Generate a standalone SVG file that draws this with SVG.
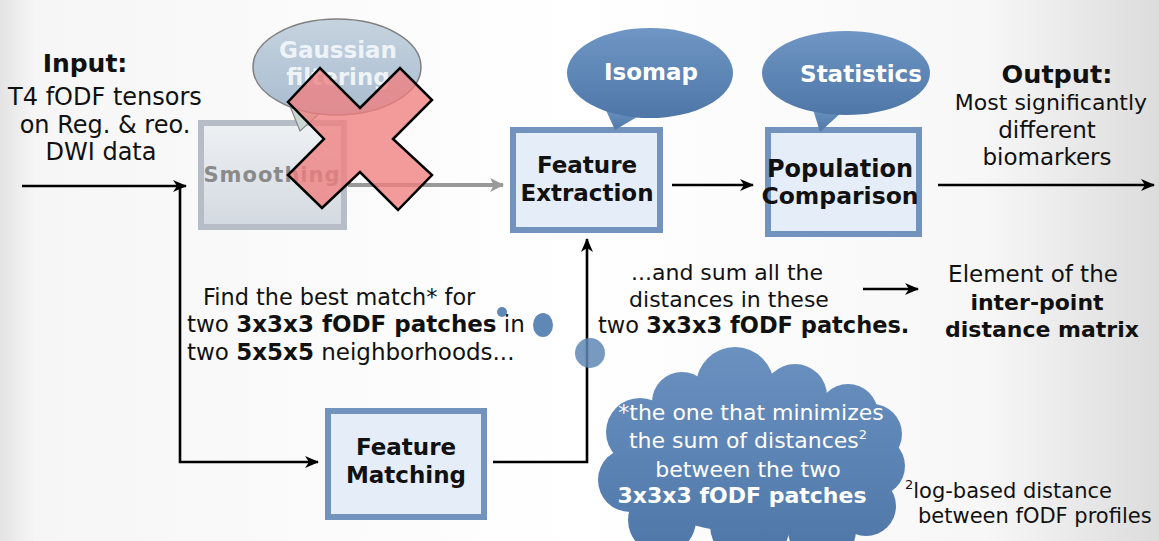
<svg xmlns="http://www.w3.org/2000/svg" width="1159" height="541" viewBox="0 0 1159 541" font-size="22">
<defs>
<linearGradient id="bg" x1="0" y1="0" x2="1" y2="0">
<stop offset="0" stop-color="#e4e4e4"/><stop offset="0.03" stop-color="#f6f6f6"/><stop offset="0.5" stop-color="#ffffff"/><stop offset="0.85" stop-color="#f7f7f7"/><stop offset="1" stop-color="#dcdcdc"/>
</linearGradient>
<linearGradient id="blueFill" x1="0" y1="0" x2="0" y2="1">
<stop offset="0" stop-color="#6f96c4"/><stop offset="1" stop-color="#4e77a8"/>
</linearGradient>
<linearGradient id="cloudFill" gradientUnits="userSpaceOnUse" x1="0" y1="347" x2="0" y2="541">
<stop offset="0" stop-color="#6a91c0"/><stop offset="1" stop-color="#5079aa"/>
</linearGradient>
<linearGradient id="grayFill" x1="0" y1="0" x2="0" y2="1">
<stop offset="0" stop-color="#eef1f4"/><stop offset="1" stop-color="#d3d9e0"/>
</linearGradient>
<linearGradient id="gaussFill" x1="0" y1="0" x2="0" y2="1">
<stop offset="0" stop-color="#c6d3e0"/><stop offset="1" stop-color="#a8bccf"/>
</linearGradient>
<marker id="ah" viewBox="0 0 14 12" refX="13" refY="6" markerWidth="14" markerHeight="12" markerUnits="userSpaceOnUse" orient="auto">
<path d="M0,0 L14,6 L0,12 L4,6 Z" fill="#000"/>
</marker>
<marker id="ahg" viewBox="0 0 12 12" refX="11" refY="6" markerWidth="14" markerHeight="14" markerUnits="userSpaceOnUse" orient="auto">
<path d="M0,0 L12,6 L0,12 L3,6 Z" fill="#999"/>
</marker>
<style>
text{font-family:"DejaVu Sans","Liberation Sans",sans-serif;fill:#111}
.c{text-anchor:middle}
.b{font-weight:bold}
.w{fill:#ffffff}
.box{fill:#e5edf8;stroke:#7393bf;stroke-width:6}
.bub{fill:url(#blueFill)}
.ln{fill:none;stroke:#000;stroke-width:2.6}
</style>
</defs>
<rect x="0" y="0" width="1159" height="541" fill="url(#bg)"/>

<g id="connectors">
<line class="ln" x1="22" y1="186" x2="186" y2="186" marker-end="url(#ah)"/>
<polyline class="ln" points="180,188 180,462 318,462" marker-end="url(#ah)"/>
<line x1="348" y1="185" x2="503" y2="185" stroke="#999" stroke-width="4" marker-end="url(#ahg)"/>
<line class="ln" x1="672" y1="185" x2="753" y2="185" marker-end="url(#ah)"/>
<line class="ln" x1="938" y1="185" x2="1154" y2="185" marker-end="url(#ah)"/>
<polyline class="ln" points="493,462 587,462 587,239" marker-end="url(#ah)"/>
<line class="ln" x1="863" y1="289" x2="918" y2="289" marker-end="url(#ah)"/>
</g>

<g id="input-label">
<text class="c b" x="85" y="72" font-size="25">Input:</text>
<text class="c" x="105" y="105" font-size="24">T4 fODF tensors</text>
<text class="c" x="105" y="133" font-size="24">on Reg. &amp; reo.</text>
<text class="c" x="101" y="160" font-size="24">DWI data</text>
</g>

<g id="smoothing">
<rect x="201" y="123" width="143" height="104" fill="url(#grayFill)" stroke="#b6bdc7" stroke-width="6"/>
<text class="c b" x="272" y="182" font-size="21" style="fill:#8a8a8a" letter-spacing="1">Smoothing</text>
</g>

<g id="gaussian-filtering">
<polygon points="290,106 300,131 320,113" fill="#c9d9d2" stroke="#888" stroke-width="1.2"/>
<ellipse cx="337" cy="67" rx="84" ry="48" fill="url(#gaussFill)" stroke="#808080" stroke-width="1.5"/>
<text class="c b" x="338" y="58" font-size="23" style="fill:#eef3f8">Gaussian</text>
<text class="c b" x="338" y="85" font-size="23" style="fill:#eef3f8">filtering</text>
</g>

<g id="cross">
<polygon points="360,108 400,68 432,100 393,139 432,175 398,210 360,172 322,208 288,175 324,139 288,102 320,68" fill="#f07f7f" fill-opacity="0.78" stroke="#000" stroke-width="2.5" stroke-linejoin="miter"/>
</g>

<g id="feature-extraction">
<rect class="box" x="513" y="130" width="147" height="100"/>
<text class="c b" x="587" y="173" font-size="23">Feature</text>
<text class="c b" x="587" y="201" font-size="23">Extraction</text>
</g>

<g id="isomap">
<polygon class="bub" points="604,106 615,130 642,114"/>
<ellipse class="bub" cx="650" cy="73" rx="83" ry="45"/>
<text class="c b w" x="651" y="80" font-size="23">Isomap</text>
</g>

<g id="population-comparison">
<rect class="box" x="768" y="130" width="151" height="104"/>
<text class="c b" x="840" y="177" font-size="24">Population</text>
<text class="c b" x="840" y="204" font-size="23.5">Comparison</text>
</g>

<g id="statistics">
<polygon class="bub" points="812,106 820,132 842,112"/>
<ellipse class="bub" cx="846" cy="73" rx="84" ry="42"/>
<text class="c b w" x="861" y="82" font-size="23">Statistics</text>
</g>

<g id="output-label">
<text class="c b" x="1057" y="83" font-size="25.5">Output:</text>
<text class="c" x="1051" y="110" font-size="22">Most significantly</text>
<text class="c" x="1047" y="138" font-size="23">different</text>
<text class="c" x="1047" y="165" font-size="23">biomarkers</text>
</g>

<g id="feature-matching">
<rect class="box" x="328" y="411" width="156" height="106"/>
<text class="c b" x="406" y="455" font-size="23">Feature</text>
<text class="c b" x="406" y="483" font-size="23">Matching</text>
</g>

<g id="find-text">
<text x="203" y="305" font-size="22.4">Find the best match* for</text>
<text x="187" y="332" font-size="23">two <tspan class="b">3x3x3 fODF patches</tspan> in</text>
<text x="187" y="360" font-size="23">two <tspan class="b">5x5x5</tspan> neighborhoods...</text>
</g>

<g id="thought-bubbles">
<circle cx="502" cy="312" r="5" fill="#6088b6"/>
<ellipse cx="543" cy="325" rx="10" ry="12" fill="#6088b6"/>
<circle cx="590" cy="353" r="15" fill="#6088b6" fill-opacity="0.85"/>
</g>

<g id="sum-text">
<text class="c" x="727" y="280" font-size="22">...and sum all the</text>
<text class="c" x="729" y="307" font-size="22">distances in these</text>
<text x="598" y="333" font-size="22.5">two <tspan class="b">3x3x3 fODF patches.</tspan></text>
</g>

<g id="element-text">
<text class="c" x="1033" y="282" font-size="23">Element of the</text>
<text class="c b" x="1037" y="310" font-size="22">inter-point</text>
<text class="c b" x="1042" y="337" font-size="22">distance matrix</text>
</g>

<g id="cloud">
<g fill="url(#cloudFill)">
<circle cx="735" cy="386" r="39"/>
<circle cx="682" cy="402" r="30"/>
<circle cx="795" cy="396" r="32"/>
<circle cx="848" cy="414" r="30"/>
<circle cx="872" cy="434" r="30"/>
<circle cx="640" cy="432" r="34"/>
<circle cx="630" cy="480" r="32"/>
<circle cx="875" cy="466" r="30"/>
<circle cx="866" cy="506" r="30"/>
<circle cx="662" cy="520" r="34"/>
<circle cx="750" cy="525" r="40"/>
<circle cx="822" cy="530" r="34"/>
<ellipse cx="752" cy="465" rx="125" ry="68"/>
</g>
<text class="c w" x="751" y="420" font-size="22">*the one that minimizes</text>
<text class="c w" x="748" y="448" font-size="22">the sum of distances<tspan font-size="13" dy="-9">2</tspan></text>
<text class="c w" x="748" y="477" font-size="22">between the two</text>
<text class="c b w" x="742" y="503" font-size="22">3x3x3 fODF patches</text>
</g>

<g id="footnote">
<text x="905" y="498" font-size="21"><tspan font-size="13" dy="-9">2</tspan><tspan dy="9">log-based distance</tspan></text>
<text x="918" y="523" font-size="21">between fODF profiles</text>
</g>
</svg>
